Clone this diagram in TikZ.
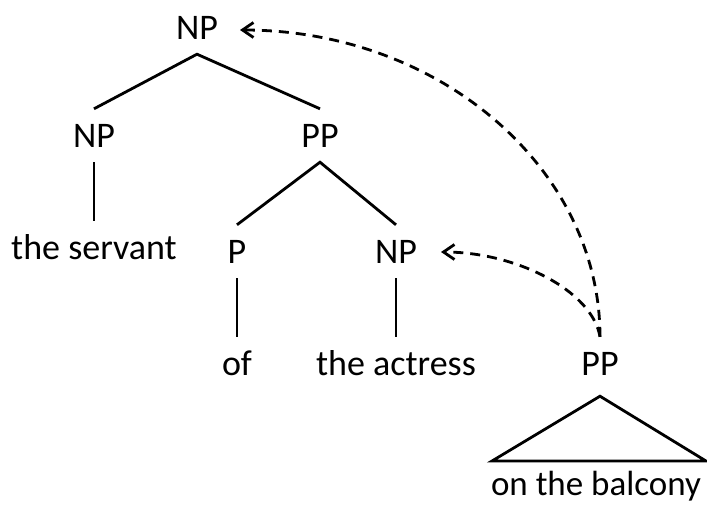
\documentclass[tikz,border=0pt]{standalone}
\usepackage{fontspec}
\setmainfont{Carlito}
\usetikzlibrary{arrows.meta}
\begin{document}
\begin{tikzpicture}[x=1pt,y=-1pt,
  lab/.style={anchor=base,inner xsep=0pt,inner ysep=15pt,text height=23pt,text depth=0pt,
    font=\fontsize{36}{40}\selectfont},
  edge/.style={line width=2.8pt},
  move/.style={line width=2.8pt,dash pattern=on 10pt off 7pt,
    -{Straight Barb[length=11pt,width=15pt]}}]
\useasboundingbox (0,0) rectangle (707,504);
\node[lab] (np0) at (197,39) {NP};
\node[lab] (np1) at (94,147) {NP};
\node[lab] (pp1) at (320,147) {PP};
\node[lab] (ts) at (94,259) {the servant};
\node[lab] (p) at (237,263) {P};
\node[lab] (np2) at (396,263) {NP};
\node[lab] (of) at (237,375) {of};
\node[lab] (ta) at (396,375) {the actress};
\node[lab] (pp2) at (600,375) {PP};
\node[lab,font=\fontsize{35}{40}\selectfont] (otb) at (596,495) {on the balcony};
\coordinate (tl) at (492,461);
\coordinate (tr) at (706,461);
\draw[edge] (np1.north) -- (np0.south) -- (pp1.north);
\draw[edge] (np1.south) -- (ts.north);
\draw[edge] (p.north) -- (pp1.south) -- (np2.north);
\draw[edge] (p.south) -- (of.north);
\draw[edge] (np2.south) -- (ta.north);
\draw[edge,line join=miter] ([yshift=-6pt]pp2.south) -- (tr) -- (tl) -- cycle;
\draw[move] (pp2.north) .. controls (600,168) and (439,30) .. (240,30);
\draw[move] (pp2.north) .. controls (592,290) and (515,252) .. (441,252);
\end{tikzpicture}
\end{document}
